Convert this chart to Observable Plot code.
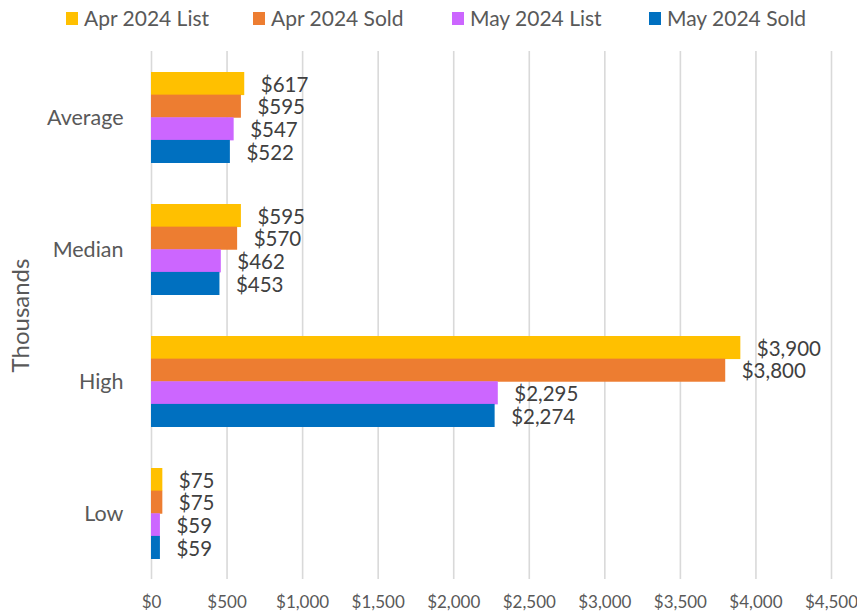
<!DOCTYPE html>
<html>
<head>
<meta charset="utf-8">
<script src="https://cdn.jsdelivr.net/npm/d3@7"></script>
<script src="https://cdn.jsdelivr.net/npm/@observablehq/plot@0.6"></script>
<style>
  html, body { margin: 0; padding: 0; background: #fff; }
  #wrap { width: 857px; font-family: Lato, "Open Sans", sans-serif; }
  #legend { position: relative; height: 40px; width: 857px; }
  .item { position: absolute; top: 6px; display: flex; align-items: center; font-size: 21px; color: #595959; white-space: nowrap; line-height: 24px; }
  .sw { width: 12px; height: 13px; margin-right: 6px; display: inline-block; }
</style>
</head>
<body>
<div id="wrap">
  <div id="legend"></div>
  <div id="chart"></div>
</div>
<script>
const categories = ["Average", "Median", "High", "Low"];
const seriesNames = ["Apr 2024 List", "Apr 2024 Sold", "May 2024 List", "May 2024 Sold"];
const aprList = [617, 595, 3900, 75];
const aprSold = [595, 570, 3800, 75];
const mayList = [547, 462, 2295, 59];
const maySold = [522, 453, 2274, 59];
const colors = ["#FFC000", "#ED7D31", "#CC66FF", "#0070C0"];
const xTicks = [0, 500, 1000, 1500, 2000, 2500, 3000, 3500, 4000, 4500];

const seriesValues = [aprList, aprSold, mayList, maySold];
const rows = [];
seriesNames.forEach((s, si) => {
  categories.forEach((c, ci) => rows.push({category: c, series: s, si, value: seriesValues[si][ci]}));
});

// legend
const legendLeft = [66, 253, 452, 649];
const legend = document.getElementById("legend");
seriesNames.forEach((s, i) => {
  const it = document.createElement("div");
  it.className = "item";
  it.style.left = legendLeft[i] + "px";
  const sw = document.createElement("span");
  sw.className = "sw";
  sw.style.background = colors[i];
  it.appendChild(sw);
  it.appendChild(document.createTextNode(s));
  legend.appendChild(it);
});

const W = 857, H = 573, mT = 11, mB = 34, mL = 151, mR = 26;
const pInner = 0.314, pOuter = 0.157;
const step = (H - mT - mB) / categories.length;
const bw = step * (1 - pInner);
const barH = bw / seriesNames.length;
const fmt = d => "$" + d3.format(",")(d);

const marks = [
  Plot.gridX(xTicks, {stroke: "#d9d9d9", strokeOpacity: 1, strokeWidth: 1.6}),
];
seriesNames.forEach((s, i) => {
  const data = rows.filter(r => r.si === i);
  marks.push(Plot.barX(data, {
    x: "value", y: "category", fill: colors[i],
    insetTop: i * barH, insetBottom: (seriesNames.length - 1 - i) * barH
  }));
  marks.push(Plot.text(data, {
    x: "value", y: "category", text: d => fmt(d.value),
    dx: 16, dy: (i - 1.5) * barH + 1, textAnchor: "start",
    fontSize: 20.5, fill: "#404040"
  }));
});
marks.push(Plot.axisX({ticks: xTicks, tickFormat: fmt, tickSize: 0, tickPadding: 16, fontSize: 17, color: "#595959", label: null}));
marks.push(Plot.axisY({tickSize: 0, tickPadding: 28, fontSize: 21.5, color: "#595959",
  label: "Thousands", labelAnchor: "center", labelArrow: "none", labelOffset: 140}));

const chart = Plot.plot({
  width: W, height: H,
  marginTop: mT, marginBottom: mB, marginLeft: mL, marginRight: mR,
  style: {fontFamily: "Lato, 'Open Sans', sans-serif", background: "#fff", overflow: "visible"},
  x: {domain: [0, 4500]},
  y: {domain: categories, paddingInner: pInner, paddingOuter: pOuter},
  marks
});
chart.querySelectorAll("g[aria-label='y-axis label'] text").forEach(t => t.setAttribute("font-size", 24));
document.getElementById("chart").appendChild(chart);
</script>
</body>
</html>
